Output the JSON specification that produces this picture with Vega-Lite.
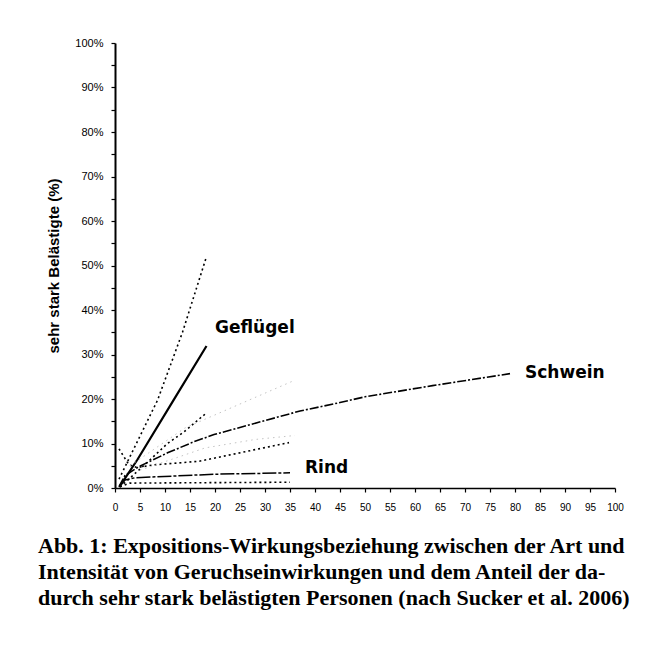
{
  "$schema": "https://vega.github.io/schema/vega-lite/v6.json",
  "autosize": "none",
  "width": 500,
  "height": 445,
  "padding": {"left": 115, "top": 43, "right": 33, "bottom": 184},
  "background": "white",
  "config": {
    "view": {"stroke": null},
    "axis": {"grid": false, "domainColor": "black", "tickColor": "black", "labelColor": "black", "titleColor": "black"}
  },
  "title": {
    "text": [
      "Abb. 1: Expositions-Wirkungsbeziehung zwischen der Art und",
      "Intensität von Geruchseinwirkungen und dem Anteil der da-",
      "durch sehr stark belästigten Personen (nach Sucker et al. 2006)"
    ],
    "orient": "bottom",
    "anchor": "start",
    "frame": "group",
    "dx": -77,
    "offset": 24,
    "font": "Liberation Serif",
    "fontWeight": "bold",
    "fontSize": 22,
    "lineHeight": 26,
    "color": "black"
  },
  "data": {
    "values": [
      {"linie": "Geflügel", "x": 1, "y": 0.5},
      {"linie": "Geflügel", "x": 4.5, "y": 6.4},
      {"linie": "Geflügel", "x": 11.8, "y": 19.9},
      {"linie": "Geflügel", "x": 18.3, "y": 31.9},

      {"linie": "Geflügel oben", "x": 0.8, "y": 2},
      {"linie": "Geflügel oben", "x": 4.5, "y": 10.5},
      {"linie": "Geflügel oben", "x": 8.5, "y": 19.7},
      {"linie": "Geflügel oben", "x": 13.5, "y": 35},
      {"linie": "Geflügel oben", "x": 18.3, "y": 52},

      {"linie": "Geflügel unten", "x": 1, "y": 0.2},
      {"linie": "Geflügel unten", "x": 6.5, "y": 5.8},
      {"linie": "Geflügel unten", "x": 10.5, "y": 10},
      {"linie": "Geflügel unten", "x": 13.8, "y": 12.6},
      {"linie": "Geflügel unten", "x": 18, "y": 16.6},

      {"linie": "Schwein", "x": 0.8, "y": 0.3},
      {"linie": "Schwein", "x": 2, "y": 2.8},
      {"linie": "Schwein", "x": 4.8, "y": 4.8},
      {"linie": "Schwein", "x": 10.5, "y": 7.9},
      {"linie": "Schwein", "x": 15.8, "y": 10.4},
      {"linie": "Schwein", "x": 19.8, "y": 12},
      {"linie": "Schwein", "x": 29.5, "y": 15},
      {"linie": "Schwein", "x": 37, "y": 17.3},
      {"linie": "Schwein", "x": 45, "y": 19.2},
      {"linie": "Schwein", "x": 50, "y": 20.5},
      {"linie": "Schwein", "x": 63.5, "y": 23},
      {"linie": "Schwein", "x": 79, "y": 25.7},

      {"linie": "Schwein oben", "x": 3, "y": 5},
      {"linie": "Schwein oben", "x": 14, "y": 13.5},
      {"linie": "Schwein oben", "x": 35.5, "y": 24},

      {"linie": "Schwein unten", "x": 5, "y": 4},
      {"linie": "Schwein unten", "x": 18, "y": 9},
      {"linie": "Schwein unten", "x": 28, "y": 10.9},
      {"linie": "Schwein unten", "x": 36, "y": 11.8},

      {"linie": "Rind", "x": 0.8, "y": 0.2},
      {"linie": "Rind", "x": 2, "y": 1.8},
      {"linie": "Rind", "x": 4, "y": 2.3},
      {"linie": "Rind", "x": 12, "y": 2.7},
      {"linie": "Rind", "x": 20, "y": 3.1},
      {"linie": "Rind", "x": 35, "y": 3.4},

      {"linie": "Rind oben", "x": 0.8, "y": 8.8},
      {"linie": "Rind oben", "x": 2.8, "y": 5.2},
      {"linie": "Rind oben", "x": 4.4, "y": 4.6},
      {"linie": "Rind oben", "x": 7.8, "y": 5.2},
      {"linie": "Rind oben", "x": 16.8, "y": 6.0},
      {"linie": "Rind oben", "x": 19.8, "y": 6.7},
      {"linie": "Rind oben", "x": 34.8, "y": 10.2},

      {"linie": "Rind unten", "x": 1, "y": 0.3},
      {"linie": "Rind unten", "x": 3, "y": 1.1},
      {"linie": "Rind unten", "x": 35, "y": 1.3}
    ]
  },
  "encoding": {
    "x": {
      "field": "x", "type": "quantitative",
      "scale": {"domain": [0, 100], "nice": false, "zero": true},
      "axis": {
        "title": null, "values": [0,5,10,15,20,25,30,35,40,45,50,55,60,65,70,75,80,85,90,95,100],
        "tickSize": 4, "tickWidth": 1.2, "domainWidth": 1.5, "labelPadding": 10,
        "labelFont": "Liberation Sans", "labelFontSize": 10, "labelFlush": false
      }
    },
    "y": {
      "field": "y", "type": "quantitative",
      "scale": {"domain": [0, 100], "nice": false},
      "axis": {
        "title": "sehr stark Belästigte (%)",
        "titleFont": "Liberation Sans", "titleFontWeight": "bold", "titleFontSize": 15,
        "titlePadding": 13,
        "values": [0,5,10,15,20,25,30,35,40,45,50,55,60,65,70,75,80,85,90,95,100],
        "labelExpr": "datum.value % 10 === 0 ? datum.value + '%' : ''",
        "tickSize": 4, "tickWidth": 1.2, "domainWidth": 2, "labelPadding": 8,
        "labelFont": "Liberation Sans", "labelFontSize": 11
      }
    }
  },
  "layer": [
    {
      "transform": [{"filter": "datum.linie === 'Geflügel'"}],
      "mark": {"type": "line", "color": "black", "strokeWidth": 2.2},
      "encoding": {"order": {"field": "x"}}
    },
    {
      "transform": [{"filter": "datum.linie === 'Schwein'"}],
      "mark": {"type": "line", "color": "black", "strokeWidth": 1.6, "strokeDash": [9, 2, 2, 2]},
      "encoding": {"order": {"field": "x"}}
    },
    {
      "transform": [{"filter": "datum.linie === 'Rind'"}],
      "mark": {"type": "line", "color": "black", "strokeWidth": 1.5, "strokeDash": [14, 2, 3, 2]},
      "encoding": {"order": {"field": "x"}}
    },
    {
      "transform": [{"filter": "indexof(['Geflügel oben','Geflügel unten','Rind oben','Rind unten'], datum.linie) >= 0"}],
      "mark": {"type": "line", "color": "black", "strokeWidth": 1.6, "strokeDash": [2, 3]},
      "encoding": {"detail": {"field": "linie"}, "order": {"field": "x"}}
    },
    {
      "transform": [{"filter": "indexof(['Schwein oben','Schwein unten'], datum.linie) >= 0"}],
      "mark": {"type": "line", "color": "#c4c4c4", "strokeWidth": 1, "strokeDash": [1.5, 4]},
      "encoding": {"detail": {"field": "linie"}, "order": {"field": "x"}}
    },
    {
      "data": {
        "values": [
          {"label": "Geflügel", "x": 20, "y": 35.9},
          {"label": "Schwein", "x": 82, "y": 25.8},
          {"label": "Rind", "x": 38, "y": 4.6}
        ]
      },
      "mark": {"type": "text", "align": "left", "baseline": "middle", "font": "DejaVu Sans", "fontWeight": "bold", "fontSize": 17, "color": "black"},
      "encoding": {"text": {"field": "label"}}
    }
  ]
}
